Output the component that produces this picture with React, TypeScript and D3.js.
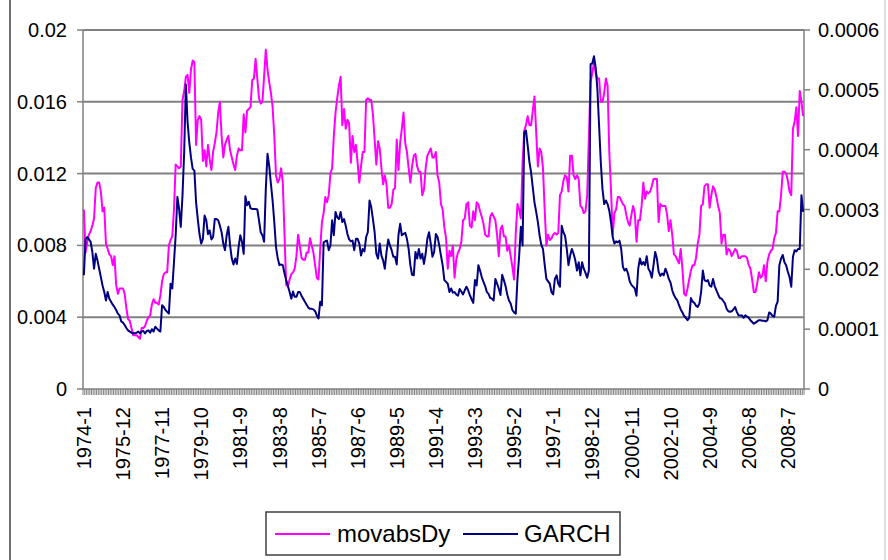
import React from "react";
import * as d3 from "d3";

// monthly series, 1974-1 onward
const startYear = 1974;
const startMonth = 1;

const movabsDy = [
  0.0100, 0.0076, 0.0082, 0.0086, 0.0088, 0.0091, 0.0095, 0.0112, 0.0115, 0.0115,
  0.0110, 0.0099, 0.0101, 0.0081, 0.0078, 0.0075, 0.0074, 0.0069, 0.0074, 0.0058,
  0.0053, 0.0056, 0.0056, 0.0056, 0.0053, 0.0045, 0.0039, 0.0038, 0.0034, 0.0030,
  0.0030, 0.0030, 0.0029, 0.0028, 0.0034, 0.0034, 0.0035, 0.0038, 0.0040, 0.0041,
  0.0047, 0.0050, 0.0048, 0.0048, 0.0047, 0.0052, 0.0060, 0.0064, 0.0065, 0.0065,
  0.0080, 0.0083, 0.0085, 0.0100, 0.0125, 0.0124, 0.0123, 0.0124, 0.0161, 0.0166,
  0.0174, 0.0175, 0.0165, 0.0178, 0.0183, 0.0182, 0.0136, 0.0150, 0.0152, 0.0150,
  0.0127, 0.0133, 0.0124, 0.0136, 0.0128, 0.0122, 0.0132, 0.0137, 0.0143, 0.0154,
  0.0160, 0.0141, 0.0129, 0.0136, 0.0139, 0.0141, 0.0133, 0.0129, 0.0125, 0.0122,
  0.0130, 0.0134, 0.0133, 0.0133, 0.0153, 0.0143, 0.0155, 0.0156, 0.0157, 0.0172,
  0.0173, 0.0184, 0.0173, 0.0162, 0.0159, 0.0160, 0.0174, 0.0189, 0.0178, 0.0171,
  0.0165, 0.0157, 0.0141, 0.0119, 0.0115, 0.0117, 0.0123, 0.0115, 0.0086, 0.0058,
  0.0057, 0.0061, 0.0064, 0.0065, 0.0067, 0.0074, 0.0086, 0.0080, 0.0073, 0.0072,
  0.0072, 0.0076, 0.0076, 0.0084, 0.0080, 0.0076, 0.0069, 0.0062, 0.0061, 0.0078,
  0.0093, 0.0098, 0.0107, 0.0104, 0.0108, 0.0120, 0.0123, 0.0141, 0.0154, 0.0162,
  0.0169, 0.0174, 0.0147, 0.0156, 0.0145, 0.0150, 0.0148, 0.0126, 0.0141, 0.0132,
  0.0136, 0.0126, 0.0115, 0.0124, 0.0132, 0.0132, 0.0161, 0.0162, 0.0161, 0.0161,
  0.0153, 0.0139, 0.0125, 0.0138, 0.0134, 0.0123, 0.0114, 0.0119, 0.0114, 0.0101,
  0.0101, 0.0103, 0.0111, 0.0112, 0.0139, 0.0122, 0.0137, 0.0145, 0.0154, 0.0137,
  0.0132, 0.0123, 0.0115, 0.0124, 0.0130, 0.0131, 0.0124, 0.0121, 0.0121, 0.0108,
  0.0111, 0.0123, 0.0130, 0.0132, 0.0134, 0.0129, 0.0129, 0.0132, 0.0119, 0.0115,
  0.0103, 0.0100, 0.0090, 0.0084, 0.0067, 0.0077, 0.0074, 0.0080, 0.0062, 0.0072,
  0.0076, 0.0078, 0.0082, 0.0094, 0.0095, 0.0103, 0.0104, 0.0091, 0.0090, 0.0099,
  0.0094, 0.0104, 0.0103, 0.0099, 0.0096, 0.0092, 0.0086, 0.0085, 0.0085, 0.0096,
  0.0098, 0.0096, 0.0094, 0.0086, 0.0074, 0.0089, 0.0091, 0.0085, 0.0085, 0.0077,
  0.0080, 0.0074, 0.0068, 0.0061, 0.0087, 0.0103, 0.0100, 0.0095, 0.0126, 0.0144,
  0.0147, 0.0152, 0.0147, 0.0147, 0.0155, 0.0163, 0.0143, 0.0124, 0.0134, 0.0132,
  0.0123, 0.0100, 0.0080, 0.0086, 0.0083, 0.0084, 0.0086, 0.0087, 0.0086, 0.0087,
  0.0108, 0.0110, 0.0116, 0.0119, 0.0118, 0.0110, 0.0130, 0.0130, 0.0119, 0.0117,
  0.0119, 0.0117, 0.0102, 0.0101, 0.0098, 0.0099, 0.0108, 0.0141, 0.0171, 0.0176,
  0.0182, 0.0176, 0.0173, 0.0173, 0.0160, 0.0160, 0.0165, 0.0173, 0.0169, 0.0132,
  0.0111, 0.0086, 0.0098, 0.0100, 0.0107, 0.0107, 0.0105, 0.0103, 0.0102, 0.0097,
  0.0093, 0.0091, 0.0097, 0.0102, 0.0098, 0.0082, 0.0094, 0.0094, 0.0102, 0.0115,
  0.0106, 0.0110, 0.0109, 0.0110, 0.0113, 0.0117, 0.0117, 0.0117, 0.0093, 0.0103,
  0.0102, 0.0102, 0.0102, 0.0097, 0.0088, 0.0094, 0.0086, 0.0075, 0.0074, 0.0072,
  0.0070, 0.0078, 0.0067, 0.0053, 0.0052, 0.0056, 0.0061, 0.0066, 0.0069, 0.0069,
  0.0073, 0.0081, 0.0086, 0.0102, 0.0103, 0.0113, 0.0114, 0.0114, 0.0101, 0.0108,
  0.0113, 0.0111, 0.0107, 0.0102, 0.0098, 0.0081, 0.0086, 0.0086, 0.0075, 0.0078,
  0.0077, 0.0074, 0.0076, 0.0078, 0.0077, 0.0073, 0.0073, 0.0074, 0.0074, 0.0074,
  0.0073, 0.0069, 0.0067, 0.0061, 0.0054, 0.0054, 0.0059, 0.0065, 0.0062, 0.0063,
  0.0069, 0.0060, 0.0071, 0.0075, 0.0077, 0.0078, 0.0084, 0.0087, 0.0099, 0.0099,
  0.0108, 0.0121, 0.0121, 0.0120, 0.0116, 0.0110, 0.0108, 0.0145, 0.0149, 0.0157,
  0.0141, 0.0166, 0.0160, 0.0152,
];

const garch = [
  0.000190, 0.000250, 0.000254, 0.000250, 0.000246, 0.000229, 0.000201, 0.000226, 0.000215, 0.000201,
  0.000187, 0.000173, 0.000162, 0.000148, 0.000162, 0.000151, 0.000146, 0.000141, 0.000137, 0.000132,
  0.000126, 0.000123, 0.000113, 0.000111, 0.000107, 0.000102, 0.000098, 0.000096, 0.000094, 0.000093,
  0.000093, 0.000094, 0.000096, 0.000093, 0.000096, 0.000097, 0.000093, 0.000097, 0.000098, 0.000094,
  0.000100, 0.000096, 0.000104, 0.000101, 0.000098, 0.000096, 0.000140, 0.000137, 0.000132, 0.000129,
  0.000126, 0.000176, 0.000168, 0.000212, 0.000257, 0.000321, 0.000301, 0.000271, 0.000323, 0.000396,
  0.000509, 0.000446, 0.000412, 0.000387, 0.000368, 0.000365, 0.000312, 0.000284, 0.000259, 0.000243,
  0.000251, 0.000290, 0.000282, 0.000259, 0.000265, 0.000250, 0.000254, 0.000284, 0.000284, 0.000282,
  0.000273, 0.000262, 0.000243, 0.000232, 0.000257, 0.000271, 0.000240, 0.000218, 0.000208, 0.000218,
  0.000209, 0.000237, 0.000257, 0.000246, 0.000226, 0.000322, 0.000307, 0.000313, 0.000302, 0.000301,
  0.000301, 0.000301, 0.000300, 0.000282, 0.000262, 0.000257, 0.000246, 0.000334, 0.000393, 0.000373,
  0.000343, 0.000315, 0.000279, 0.000237, 0.000219, 0.000207, 0.000208, 0.000207, 0.000193, 0.000182,
  0.000172, 0.000162, 0.000151, 0.000163, 0.000154, 0.000154, 0.000162, 0.000162, 0.000156, 0.000151,
  0.000146, 0.000141, 0.000136, 0.000134, 0.000134, 0.000133, 0.000130, 0.000123, 0.000118, 0.000146,
  0.000140, 0.000245, 0.000247, 0.000248, 0.000232, 0.000240, 0.000282, 0.000257, 0.000296, 0.000287,
  0.000284, 0.000296, 0.000279, 0.000284, 0.000273, 0.000259, 0.000250, 0.000247, 0.000248, 0.000232,
  0.000251, 0.000251, 0.000243, 0.000223, 0.000234, 0.000230, 0.000254, 0.000262, 0.000315, 0.000304,
  0.000284, 0.000262, 0.000226, 0.000218, 0.000243, 0.000223, 0.000215, 0.000201, 0.000229, 0.000250,
  0.000240, 0.000232, 0.000221, 0.000221, 0.000208, 0.000257, 0.000276, 0.000257, 0.000259, 0.000261,
  0.000251, 0.000234, 0.000207, 0.000191, 0.000190, 0.000229, 0.000218, 0.000234, 0.000218, 0.000226,
  0.000209, 0.000226, 0.000251, 0.000262, 0.000243, 0.000221, 0.000229, 0.000259, 0.000254, 0.000240,
  0.000223, 0.000207, 0.000182, 0.000179, 0.000176, 0.000162, 0.000168, 0.000161, 0.000162, 0.000158,
  0.000156, 0.000167, 0.000163, 0.000158, 0.000165, 0.000171, 0.000165, 0.000157, 0.000150, 0.000144,
  0.000182, 0.000173, 0.000207, 0.000198, 0.000187, 0.000179, 0.000172, 0.000162, 0.000159, 0.000152,
  0.000151, 0.000148, 0.000184, 0.000176, 0.000168, 0.000157, 0.000191, 0.000182, 0.000172, 0.000158,
  0.000148, 0.000143, 0.000132, 0.000128, 0.000126, 0.000184, 0.000223, 0.000271, 0.000240, 0.000429,
  0.000432, 0.000407, 0.000380, 0.000362, 0.000337, 0.000312, 0.000296, 0.000279, 0.000257, 0.000241,
  0.000234, 0.000208, 0.000184, 0.000180, 0.000176, 0.000162, 0.000158, 0.000184, 0.000190, 0.000176,
  0.000171, 0.000273, 0.000262, 0.000256, 0.000234, 0.000207, 0.000223, 0.000234, 0.000226, 0.000215,
  0.000198, 0.000212, 0.000190, 0.000212, 0.000201, 0.000194, 0.000186, 0.000198, 0.000543, 0.000544,
  0.000556, 0.000537, 0.000501, 0.000440, 0.000379, 0.000334, 0.000309, 0.000315, 0.000309, 0.000298,
  0.000279, 0.000254, 0.000243, 0.000247, 0.000245, 0.000248, 0.000234, 0.000204, 0.000198, 0.000201,
  0.000193, 0.000180, 0.000174, 0.000171, 0.000168, 0.000156, 0.000201, 0.000218, 0.000208, 0.000212,
  0.000207, 0.000222, 0.000201, 0.000196, 0.000186, 0.000207, 0.000229, 0.000218, 0.000196, 0.000189,
  0.000193, 0.000190, 0.000201, 0.000194, 0.000184, 0.000178, 0.000165, 0.000157, 0.000152, 0.000148,
  0.000140, 0.000133, 0.000128, 0.000122, 0.000119, 0.000115, 0.000119, 0.000152, 0.000146, 0.000144,
  0.000139, 0.000137, 0.000143, 0.000162, 0.000198, 0.000182, 0.000180, 0.000182, 0.000173, 0.000171,
  0.000184, 0.000172, 0.000165, 0.000158, 0.000152, 0.000151, 0.000147, 0.000143, 0.000134, 0.000130,
  0.000129, 0.000130, 0.000133, 0.000137, 0.000129, 0.000123, 0.000123, 0.000123, 0.000119, 0.000123,
  0.000121, 0.000119, 0.000115, 0.000112, 0.000109, 0.000111, 0.000113, 0.000115, 0.000115, 0.000114,
  0.000114, 0.000113, 0.000115, 0.000128, 0.000126, 0.000122, 0.000121, 0.000139, 0.000146, 0.000207,
  0.000218, 0.000224, 0.000212, 0.000207, 0.000196, 0.000187, 0.000171, 0.000221, 0.000232, 0.000230,
  0.000234, 0.000234, 0.000324, 0.000296,
];

const tickLabels = [
  "1974-1", "1975-12", "1977-11", "1979-10", "1981-9", "1983-8", "1985-7",
  "1987-6", "1989-5", "1991-4", "1993-3", "1995-2", "1997-1", "1998-12",
  "2000-11", "2002-10", "2004-9", "2006-8", "2008-7",
];
const leftTicks = [0, 0.004, 0.008, 0.012, 0.016, 0.02];
const rightTicks = [0, 0.0001, 0.0002, 0.0003, 0.0004, 0.0005, 0.0006];

// category labels, one per month
const months: string[] = movabsDy.map((_, i) => {
  const m = startMonth - 1 + i;
  return startYear + Math.floor(m / 12) + "-" + ((m % 12) + 1);
});

const W = 888, H = 560;
const plot = { left: 83, right: 804, top: 30, bottom: 389 };
const font = "'Liberation Sans', Arial, sans-serif";

export default function App() {
  const x = d3.scaleBand<string>().domain(months).range([plot.left, plot.right]).paddingInner(0).paddingOuter(0);
  const cx = (i: number) => (x(months[i]) as number) + x.bandwidth() / 2;
  const yL = d3.scaleLinear().domain([0, 0.02]).range([plot.bottom, plot.top]);
  const yR = d3.scaleLinear().domain([0, 0.0006]).range([plot.bottom, plot.top]);

  const lineL = d3.line<number>().x((_, i) => cx(i)).y(d => yL(d));
  const lineR = d3.line<number>().x((_, i) => cx(i)).y(d => yR(d));

  const catTicks = d3.range(months.length + 1).map(i => plot.left + i * x.bandwidth());

  return (
    <svg width={W} height={H} style={{ position: "absolute", left: 0, top: 0, background: "#fff" }}
      fontFamily={font}>
      <rect x={0} y={0} width={W} height={H} fill="#fff" />
      {/* chart area frame */}
      <line x1={10} y1={0} x2={10} y2={H} stroke="#404040" strokeWidth={1.5} />
      <line x1={885} y1={0} x2={885} y2={H} stroke="#c0c0c0" strokeWidth={1} />

      {/* gridlines */}
      {leftTicks.slice(1).map(t => (
        <line key={t} x1={plot.left} x2={plot.right} y1={yL(t)} y2={yL(t)} stroke="#808080" strokeWidth={2} />
      ))}

      {/* left axis */}
      <line x1={plot.left} x2={plot.left} y1={plot.top} y2={plot.bottom} stroke="#808080" strokeWidth={1.5} />
      {leftTicks.map(t => (
        <g key={"l" + t}>
          <line x1={plot.left - 6} x2={plot.left} y1={yL(t)} y2={yL(t)} stroke="#808080" strokeWidth={1.5} />
          <text x={plot.left - 16} y={yL(t)} dy="0.35em" textAnchor="end" fontSize={20} fill="#000">
            {t === 0 ? "0" : String(+t.toFixed(3))}
          </text>
        </g>
      ))}

      {/* right axis */}
      <line x1={plot.right} x2={plot.right} y1={plot.top} y2={plot.bottom} stroke="#808080" strokeWidth={1.5} />
      {rightTicks.map(t => (
        <g key={"r" + t}>
          <line x1={plot.right} x2={plot.right + 6} y1={yR(t)} y2={yR(t)} stroke="#808080" strokeWidth={1.5} />
          <text x={plot.right + 14} y={yR(t)} dy="0.35em" textAnchor="start" fontSize={20} fill="#000">
            {t === 0 ? "0" : t.toFixed(4)}
          </text>
        </g>
      ))}

      {/* category axis */}
      {catTicks.map((tx, i) => (
        <line key={"c" + i} x1={tx} x2={tx} y1={plot.bottom} y2={plot.bottom + 6} stroke="#606060" strokeWidth={0.8} />
      ))}
      <line x1={plot.left} x2={plot.right} y1={plot.bottom} y2={plot.bottom} stroke="#808080" strokeWidth={1.5} />
      {tickLabels.map(lab => {
        const i = months.indexOf(lab);
        const tx = cx(i);
        return (
          <text key={lab} transform={`translate(${tx},407) rotate(-90)`} dy="0.36em" textAnchor="end"
            fontSize={20} fill="#000">{lab}</text>
        );
      })}

      {/* series */}
      <path d={lineL(movabsDy) || ""} fill="none" stroke="#ff00ff" strokeWidth={2} strokeLinejoin="round" />
      <path d={lineR(garch) || ""} fill="none" stroke="#000080" strokeWidth={2} strokeLinejoin="round" />

      {/* legend */}
      <rect x={266} y={512} width={354} height={43} fill="#fff" stroke="#404040" strokeWidth={1.5} />
      <line x1={275} x2={330} y1={534} y2={534} stroke="#ff00ff" strokeWidth={2} />
      <text x={337} y={534} dy="0.35em" fontSize={24} fill="#000">movabsDy</text>
      <line x1={463} x2={518} y1={534} y2={534} stroke="#000080" strokeWidth={2} />
      <text x={524} y={534} dy="0.35em" fontSize={24} fill="#000">GARCH</text>
    </svg>
  );
}
